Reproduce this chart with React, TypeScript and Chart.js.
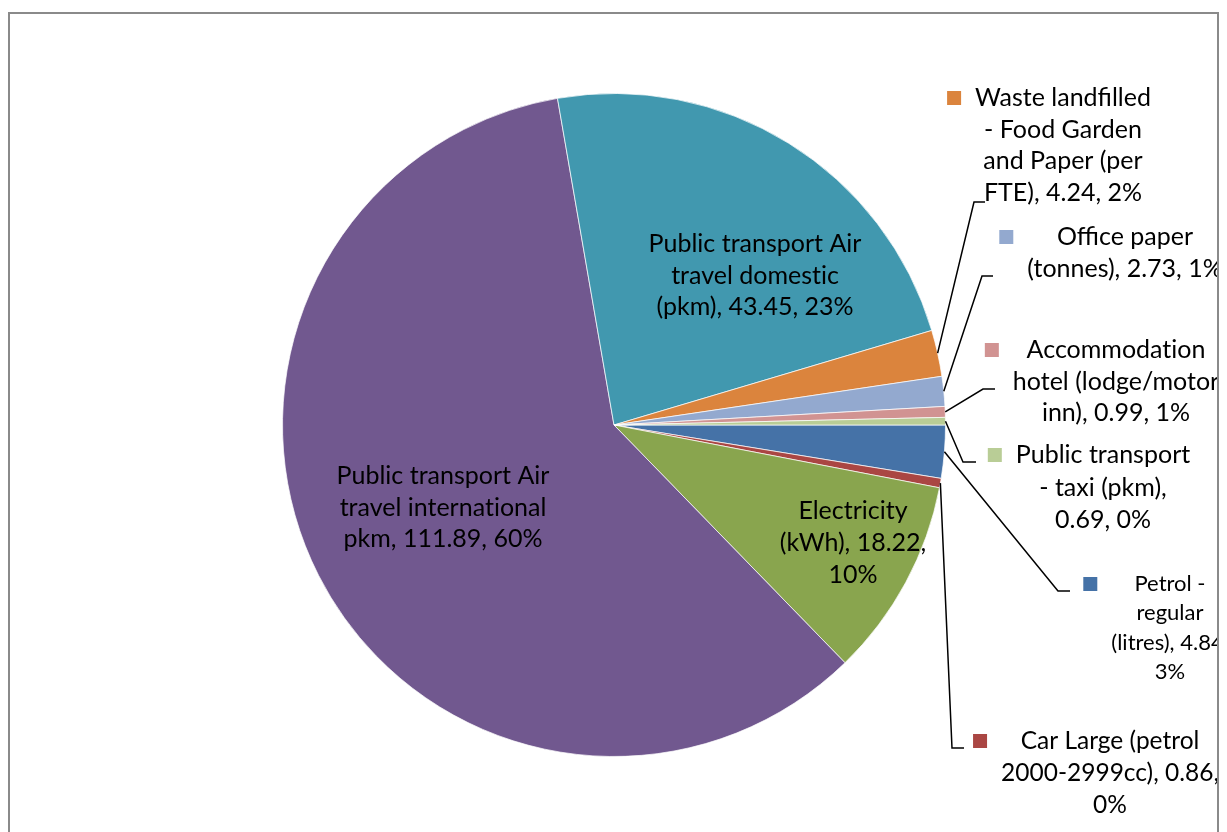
import React, { useEffect, useRef } from "react";
import { Chart, registerables } from "chart.js";

Chart.register(...registerables);

const categories = [
  "Petrol - regular (litres)",
  "Car Large (petrol 2000-2999cc)",
  "Electricity (kWh)",
  "Public transport Air travel international pkm",
  "Public transport Air travel domestic (pkm)",
  "Waste landfilled - Food Garden and Paper (per FTE)",
  "Office paper (tonnes)",
  "Accommodation hotel (lodge/motor inn)",
  "Public transport - taxi (pkm)",
];
const values = [4.84, 0.86, 18.22, 111.89, 43.45, 4.24, 2.73, 0.99, 0.69];
const colors = [
  "#4572A7",
  "#AA4643",
  "#89A54E",
  "#71588F",
  "#4198AF",
  "#DB843D",
  "#93A9CF",
  "#D19392",
  "#B9CD96",
];

const total = values.reduce((a, b) => a + b, 0);
const pct = values.map((v) => Math.round((v / total) * 100));
const val = (i: number) => values[i].toFixed(2);

// wrapped label lines (text)
const labelLines: string[][] = [
  ["Petrol -", "regular", `(litres), ${val(0)},`, `${pct[0]}%`],
  ["Car Large (petrol", `2000-2999cc), ${val(1)},`, `${pct[1]}%`],
  ["Electricity", `(kWh), ${val(2)},`, `${pct[2]}%`],
  ["Public transport Air", "travel international", `pkm, ${val(3)}, ${pct[3]}%`],
  ["Public transport Air", "travel domestic", `(pkm), ${val(4)}, ${pct[4]}%`],
  ["Waste landfilled", "- Food Garden", "and Paper (per", `FTE), ${val(5)}, ${pct[5]}%`],
  ["Office paper", `(tonnes), ${val(6)}, ${pct[6]}%`],
  ["Accommodation", "hotel (lodge/motor", `inn), ${val(7)}, ${pct[7]}%`],
  ["Public transport", "- taxi (pkm),", `${val(8)}, ${pct[8]}%`],
];

type Lay = { cx: number; y: number; lh: number; fs: number; out: boolean; ex?: number; ey?: number; endX?: number };
const layout: Lay[] = [
  { cx: 1170, y: 584, lh: 29.3, fs: 22, out: true, ex: 1058, ey: 591, endX: 1070 },
  { cx: 1110, y: 741, lh: 32, fs: 24.5, out: true, ex: 952, ey: 748, endX: 964 },
  { cx: 853, y: 511, lh: 32, fs: 25, out: false },
  { cx: 443, y: 476, lh: 31.5, fs: 25, out: false },
  { cx: 755, y: 244, lh: 31.5, fs: 25, out: false },
  { cx: 1063, y: 98, lh: 31.7, fs: 25, out: true, ex: 974, ey: 202, endX: 985 },
  { cx: 1125, y: 237, lh: 31.5, fs: 25, out: true, ex: 982, ey: 276, endX: 993 },
  { cx: 1116, y: 350, lh: 31.5, fs: 25, out: true, ex: 983, ey: 389, endX: 995 },
  { cx: 1103, y: 455, lh: 32.5, fs: 25, out: true, ex: 963, ey: 462, endX: 976 },
];

const FONT = "Lato, 'Noto Sans', sans-serif";
const noLig = (t: string) => t.replace(/ti/g, "t\u200Ci").replace(/ft/g, "f\u200Ct");

const labelPlugin = {
  id: "excelLabels",
  afterDraw(chart: any) {
    const ctx: CanvasRenderingContext2D = chart.ctx;
    const meta = chart.getDatasetMeta(0);
    ctx.save();
    ctx.beginPath();
    ctx.rect(10, 14, 1207, 830);
    ctx.clip();

    meta.data.forEach((arc: any, i: number) => {
      const p = arc.getProps(["x", "y", "startAngle", "endAngle", "outerRadius"], true);
      const L = layout[i];
      const lines = labelLines[i];
      ctx.font = `${L.fs}px ${FONT}`;
      ctx.fillStyle = "#000";
      ctx.textAlign = "center";
      ctx.textBaseline = "middle";
      let maxW = 0;
      lines.forEach((t, k) => {
        const s = noLig(t);
        maxW = Math.max(maxW, ctx.measureText(s).width);
        ctx.fillText(s, L.cx, L.y + k * L.lh);
      });
      if (L.out) {
        ctx.fillStyle = colors[i];
        const kx = L.cx - maxW / 2 - 28;
        ctx.fillRect(kx, L.y - 7, 14, 14);
        const mid = (p.startAngle + p.endAngle) / 2;
        const sx = p.x + Math.cos(mid) * p.outerRadius;
        const sy = p.y + Math.sin(mid) * p.outerRadius;
        ctx.strokeStyle = "#000";
        ctx.lineWidth = 1.5;
        ctx.beginPath();
        ctx.moveTo(sx, sy);
        ctx.lineTo(L.ex!, L.ey!);
        ctx.lineTo(L.endX!, L.ey!);
        ctx.stroke();
      }
    });
    ctx.restore();

    ctx.save();
    ctx.strokeStyle = "#8a8a8a";
    ctx.lineWidth = 2;
    ctx.beginPath();
    ctx.moveTo(9, 850);
    ctx.lineTo(9, 13);
    ctx.lineTo(1218, 13);
    ctx.lineTo(1218, 850);
    ctx.stroke();
    ctx.restore();
  },
};

export default function App() {
  const ref = useRef<HTMLCanvasElement>(null);
  useEffect(() => {
    if (!ref.current) return;
    const chart = new Chart(ref.current, {
      type: "pie",
      data: {
        labels: categories,
        datasets: [
          {
            data: values,
            backgroundColor: colors,
            borderColor: "rgba(255,255,255,0.7)",
            borderWidth: 1,
          },
        ],
      },
      options: {
        responsive: false,
        animation: false,
        rotation: 90,
        layout: { padding: { left: 282, right: 281, top: 93, bottom: 75 } },
        plugins: {
          legend: { display: false },
          tooltip: { enabled: false },
        },
      },
      plugins: [labelPlugin],
    });
    return () => chart.destroy();
  }, []);
  return (
    <div style={{ position: "fixed", left: 0, top: 0, width: 1227, height: 832, background: "#fff" }}>
      <canvas ref={ref} width={1227} height={832} style={{ width: 1227, height: 832, display: "block" }} />
    </div>
  );
}
